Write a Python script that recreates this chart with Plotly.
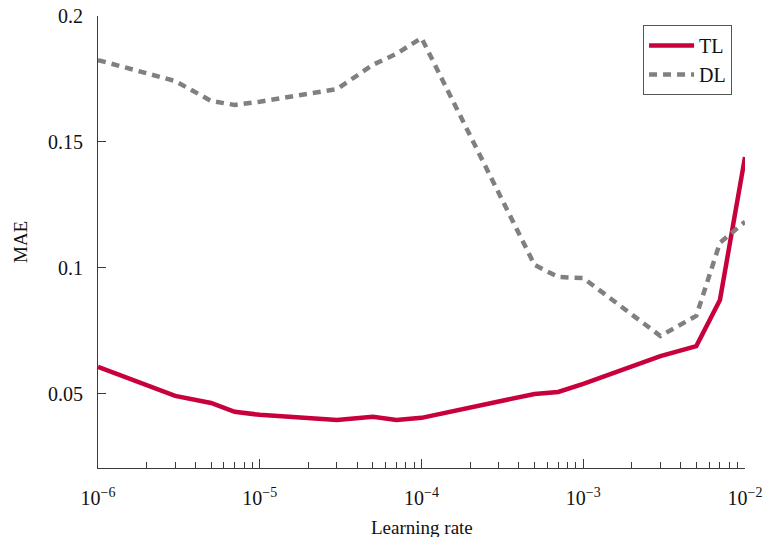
import plotly.graph_objects as go

# Learning rates swept and the resulting mean absolute error
learning_rate = [1e-6, 3e-6, 5e-6, 7e-6, 1e-5, 3e-5, 5e-5, 7e-5, 1e-4,
                 5e-4, 7e-4, 1e-3, 3e-3, 5e-3, 7e-3, 1e-2]
mae_tl = [0.0607, 0.0492, 0.0464, 0.0429, 0.0417, 0.0397, 0.0409, 0.0397, 0.0405,
          0.0500, 0.0508, 0.0540, 0.0650, 0.0690, 0.0873, 0.1440]
mae_dl = [0.1825, 0.1742, 0.1663, 0.1647, 0.1660, 0.1710, 0.1806, 0.1850, 0.1913,
          0.1012, 0.0964, 0.0960, 0.0730, 0.0810, 0.1100, 0.1183]

x_major = [1e-6, 1e-5, 1e-4, 1e-3, 1e-2]
x_major_text = ["10<sup>−6</sup>", "10<sup>−5</sup>", "10<sup>−4</sup>",
                "10<sup>−3</sup>", "10<sup>−2</sup>"]
x_minor = [m * 10.0 ** e for e in range(-6, -2) for m in range(2, 10)]
y_ticks = [0.05, 0.1, 0.15, 0.2]
y_tick_text = ["0.05", "0.1", "0.15", "0.2"]

FONT = "Liberation Serif"
AXIS_COLOR = "#3a3a3a"

fig = go.Figure()
fig.add_trace(go.Scatter(
    x=learning_rate, y=mae_tl, name="TL", mode="lines",
    line=dict(color="#C8003C", width=4.5),
))
fig.add_trace(go.Scatter(
    x=learning_rate, y=mae_dl, name="DL", mode="lines",
    line=dict(color="#808080", width=4.5, dash="8px,6px"),
))

fig.update_layout(
    width=769, height=537,
    margin=dict(l=98, r=24, t=16, b=69),
    paper_bgcolor="white", plot_bgcolor="white",
    font=dict(family=FONT, size=19, color="#111111"),
    showlegend=True,
    legend=dict(
        x=0.98, y=0.98, xanchor="right", yanchor="top",
        bgcolor="white", bordercolor="#555555", borderwidth=1,
        font=dict(family=FONT, size=20),
        itemwidth=45, tracegroupgap=2,
    ),
    xaxis=dict(
        type="log", range=[-6, -2], automargin=False,
        showgrid=False, zeroline=False,
        showline=True, linecolor=AXIS_COLOR, linewidth=1,
        ticks="inside", ticklen=9, tickcolor=AXIS_COLOR,
        tickmode="array", tickvals=x_major, ticktext=x_major_text,
        tickfont=dict(family=FONT, size=20),
        ticklabelstandoff=12,
        minor=dict(ticks="inside", ticklen=6, tickcolor=AXIS_COLOR,
                   tickmode="array", tickvals=x_minor, showgrid=False),
    ),
    yaxis=dict(
        range=[0.0206, 0.2], automargin=False,
        showgrid=False, zeroline=False,
        showline=True, linecolor=AXIS_COLOR, linewidth=1,
        ticks="inside", ticklen=8, tickcolor=AXIS_COLOR,
        tickmode="array", tickvals=y_ticks, ticktext=y_tick_text,
        tickfont=dict(family=FONT, size=20),
        ticklabelstandoff=10,
    ),
    annotations=[
        dict(text="Learning rate", xref="paper", yref="paper", x=0.5, y=0,
             yshift=-59, xanchor="center", yanchor="middle", showarrow=False,
             font=dict(family=FONT, size=19)),
        dict(text="MAE", xref="paper", yref="paper", x=0, y=0.5,
             xshift=-78, xanchor="center", yanchor="middle", showarrow=False,
             textangle=-90, font=dict(family=FONT, size=19)),
    ],
)

fig.write_html("out.html")
